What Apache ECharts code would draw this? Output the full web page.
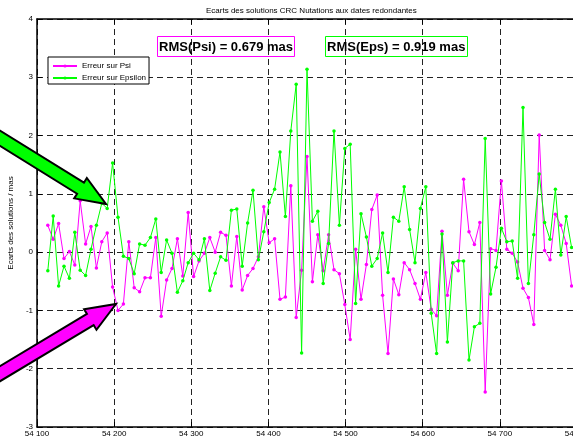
<!DOCTYPE html>
<html>
<head>
<meta charset="utf-8">
<script src="https://cdn.jsdelivr.net/npm/echarts@6/dist/echarts.min.js"></script>
<style>
  html, body { margin: 0; padding: 0; background: #fff; overflow: hidden; }
  #chart { width: 580px; height: 440px; }
</style>
</head>
<body>
<div id="chart"></div>
<script>
// Dates (MJD) of the redundant weekly solutions
const dates = [
  54114, 54121, 54128, 54135, 54142, 54149, 54156, 54163, 54170, 54177,
  54184, 54191, 54198, 54205, 54212, 54219, 54226, 54233, 54240, 54247,
  54254, 54261, 54268, 54275, 54282, 54289, 54296, 54303, 54310, 54317,
  54324, 54331, 54338, 54345, 54352, 54359, 54366, 54373, 54380, 54387,
  54394, 54401, 54408, 54415, 54422, 54429, 54436, 54443, 54450, 54457,
  54464, 54471, 54478, 54485, 54492, 54499, 54506, 54513, 54520, 54527,
  54534, 54541, 54548, 54555, 54562, 54569, 54576, 54583, 54590, 54597,
  54604, 54611, 54618, 54625, 54632, 54639, 54646, 54653, 54660, 54667,
  54674, 54681, 54688, 54695, 54702, 54709, 54716, 54723, 54730, 54737,
  54744, 54751, 54758, 54765, 54772, 54779, 54786, 54793
];

// Differences on Psi (mas)
const errPsi = [
  0.46, 0.22, 0.49, -0.11, 0.01, -0.22, 0.88, 0.14, 0.44, -0.27,
  0.18, 0.33, -0.60, -1.00, -0.89, 0.18, -0.61, -0.68, -0.44, -0.44,
  0.25, -1.10, -0.48, -0.28, 0.23, -0.41, 0.68, -0.42, -0.15, -0.02,
  0.25, 0.00, 0.34, 0.29, -0.58, 0.27, -0.65, -0.40, -0.28, -0.08,
  0.78, 0.16, 0.23, -0.81, -0.77, 1.14, -1.12, -0.31, 1.64, -0.51,
  0.30, -0.32, 0.30, -0.30, -0.37, -0.90, -1.50, 0.05, -0.81, -0.21,
  0.73, 0.98, -0.74, -1.74, -0.46, -0.73, -0.18, -0.30, -0.54, -0.81,
  -0.35, -0.98, -1.09, 0.36, -0.74, -0.19, -0.32, 1.25, 0.35, 0.13,
  0.51, -2.40, 0.06, 0.03, 1.22, 0.05, -0.02, -0.17, -0.62, -0.78,
  -1.24, 2.01, 0.03, -0.13, 0.65, 0.46, 0.15, -0.58
];

// Differences on Epsilon (mas)
const errEps = [
  -0.32, 0.62, -0.58, -0.24, -0.45, 0.34, -0.31, -0.40, 0.05, 0.46,
  0.84, 0.75, 1.53, 0.60, -0.07, -0.11, -0.37, 0.14, 0.12, 0.25,
  0.57, -0.35, 0.21, -0.02, -0.69, -0.49, -0.18, -0.02, -0.13, 0.23,
  -0.66, -0.36, -0.08, -0.14, 0.72, 0.74, -0.24, 0.50, 1.06, -0.13,
  0.35, 0.85, 1.08, 1.72, 0.61, 2.08, 2.88, -1.73, 3.14, 0.53,
  0.70, -0.54, 0.15, 2.08, 0.46, 1.78, 1.85, -0.88, 0.66, 0.26,
  -0.24, -0.11, 0.33, -0.35, 0.60, 0.53, 1.12, 0.39, -0.18, 0.75,
  1.12, -1.05, -1.74, 0.31, -1.54, -0.18, -0.15, -0.15, -1.85, -1.28,
  -1.22, 1.95, -0.72, -0.26, 0.41, 0.18, 0.19, -0.45, 2.48, -0.54,
  0.30, 1.34, 0.51, 0.22, 1.08, -0.05, 0.61, 0.08
];

const seriesNames = ['Erreur sur Psi', 'Erreur sur Epsilon'];
const rmsLabels = ['RMS(Psi) = 0.679 mas', 'RMS(Eps) = 0.919 mas'];

const FONT = 'Liberation Sans, Arial, Helvetica, sans-serif';
const PINK = '#ff00ff';
const GREEN = '#00ff00';

// "54 100" style labels
function mjdLabel(v) {
  const s = String(Math.round(v));
  return s.slice(0, s.length - 3) + ' ' + s.slice(-3);
}

// Outline of a block arrow pointing at `tip`
function arrowPoints(tip, dir, tailLen, bodyHalf, headLen, headHalf) {
  const n = Math.hypot(dir[0], dir[1]);
  const ux = dir[0] / n, uy = dir[1] / n;
  const nx = -uy, ny = ux;
  const [tx, ty] = tip;
  const bx = tx - ux * headLen, by = ty - uy * headLen;
  const sx = tx - ux * tailLen, sy = ty - uy * tailLen;
  return [
    [sx + nx * bodyHalf, sy + ny * bodyHalf],
    [bx + nx * bodyHalf, by + ny * bodyHalf],
    [bx + nx * headHalf, by + ny * headHalf],
    [tx, ty],
    [bx - nx * headHalf, by - ny * headHalf],
    [bx - nx * bodyHalf, by - ny * bodyHalf],
    [sx - nx * bodyHalf, sy - ny * bodyHalf]
  ];
}

const gridLine = { show: true, lineStyle: { color: '#222', width: 1, type: [6, 4] } };
const axisLine = { show: true, onZero: false, lineStyle: { color: '#000', width: 1.5 } };
const tickIn = { show: true, inside: true, length: 5, lineStyle: { color: '#000', width: 1 } };
const labelStyle = { color: '#000', fontSize: 8, fontFamily: FONT };

const chart = echarts.init(document.getElementById('chart'), null, { renderer: 'canvas' });

chart.setOption({
  animation: false,
  backgroundColor: '#fff',
  textStyle: { fontFamily: FONT },
  title: [
    {
      text: 'Ecarts des solutions CRC Nutations aux dates redondantes',
      left: 206, top: 7, padding: 0,
      textStyle: { fontSize: 8, fontWeight: 'normal', color: '#000', fontFamily: FONT }
    },
    {
      text: rmsLabels[0],
      left: 157, top: 36, padding: [3, 2, 2, 2],
      borderColor: PINK, borderWidth: 1,
      textStyle: { fontSize: 13, fontWeight: 'bold', color: '#000', fontFamily: FONT, lineHeight: 16 }
    },
    {
      text: rmsLabels[1],
      left: 325, top: 36, padding: [3, 2, 2, 2],
      borderColor: GREEN, borderWidth: 1,
      textStyle: { fontSize: 13, fontWeight: 'bold', color: '#000', fontFamily: FONT, lineHeight: 16 }
    }
  ],
  legend: {
    orient: 'vertical',
    left: 48, top: 57,
    padding: [4, 3, 1, 4],
    itemGap: 2,
    itemWidth: 24, itemHeight: 4,
    backgroundColor: '#fff',
    borderColor: '#000', borderWidth: 1, borderRadius: 0,
    textStyle: { fontSize: 8, color: '#000', fontFamily: FONT, lineHeight: 10 },
    data: seriesNames
  },
  grid: { left: 37, right: 3, top: 19, bottom: 13, outerBoundsMode: 'none', containLabel: false },
  xAxis: [
    {
      type: 'value', min: 54100, max: 54800, interval: 100, position: 'bottom',
      axisLine: axisLine, axisTick: tickIn,
      axisLabel: Object.assign({ margin: 3, formatter: mjdLabel, hideOverlap: false }, labelStyle),
      splitLine: gridLine
    },
    {
      type: 'value', min: 54100, max: 54800, interval: 100, position: 'top',
      axisLine: axisLine, axisTick: tickIn,
      axisLabel: { show: false }, splitLine: { show: false }
    }
  ],
  yAxis: [
    {
      type: 'value', min: -3, max: 4, interval: 1,
      name: 'Ecarts des solutions / mas',
      nameLocation: 'middle', nameGap: 18, nameRotate: 90,
      nameTextStyle: { fontSize: 8, color: '#000', fontFamily: FONT },
      axisLine: axisLine, axisTick: tickIn,
      axisLabel: Object.assign({ margin: 4 }, labelStyle),
      splitLine: gridLine
    }
  ],
  series: [
    {
      name: seriesNames[0], type: 'line',
      data: dates.map((d, i) => [d, errPsi[i]]),
      symbol: 'circle', symbolSize: 3.5, showSymbol: true,
      lineStyle: { color: PINK, width: 1 },
      itemStyle: { color: PINK },
      z: 2
    },
    {
      name: seriesNames[1], type: 'line',
      data: dates.map((d, i) => [d, errEps[i]]),
      symbol: 'circle', symbolSize: 3.5, showSymbol: true,
      lineStyle: { color: GREEN, width: 1 },
      itemStyle: { color: GREEN },
      z: 3
    }
  ],
  graphic: [
    {
      type: 'polygon', z: 100,
      shape: { points: arrowPoints([106, 204], [0.85, 0.527], 170, 6.5, 30, 12) },
      style: { fill: GREEN, stroke: '#000', lineWidth: 2, lineJoin: 'miter' }
    },
    {
      type: 'polygon', z: 100,
      shape: { points: arrowPoints([116, 304], [0.857, -0.515], 170, 6.5, 30, 12) },
      style: { fill: PINK, stroke: '#000', lineWidth: 2, lineJoin: 'miter' }
    }
  ]
});
</script>
</body>
</html>
